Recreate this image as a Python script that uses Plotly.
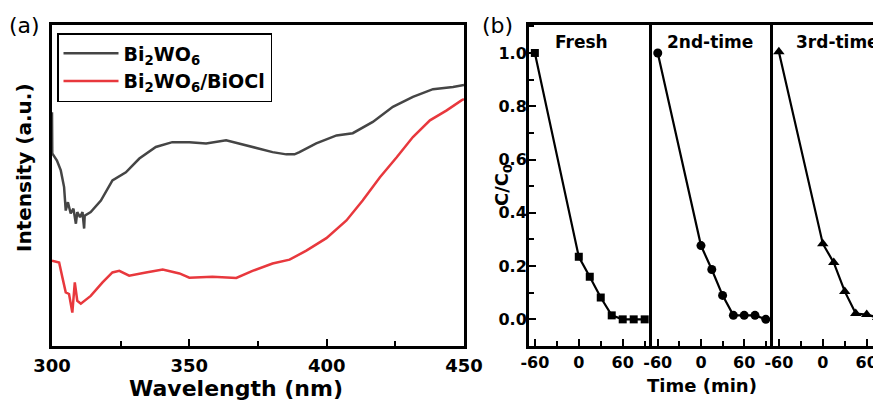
import plotly.graph_objects as go

# ---------------- data: panel (a) spectra ----------------
wl_bwo = [300.0, 300.1, 301.8, 303.2, 304.4, 305.0, 305.8, 306.8, 307.8, 308.7, 309.2, 310.2,
          311.1, 311.7, 311.9, 314.1, 317.8, 322.0, 326.9, 331.8, 337.8, 343.8, 350.0, 356.1,
          363.4, 370.7, 378.0, 380.3, 385.3, 388.3, 390.1, 396.2, 403.6, 409.5, 416.8, 424.1,
          431.4, 438.7, 446.0, 450.0]
int_bwo = [0.728, 0.600, 0.578, 0.547, 0.495, 0.422, 0.448, 0.413, 0.428, 0.381, 0.417, 0.401,
           0.417, 0.366, 0.406, 0.417, 0.453, 0.516, 0.541, 0.584, 0.620, 0.635, 0.635, 0.631,
           0.641, 0.625, 0.609, 0.604, 0.597, 0.597, 0.604, 0.631, 0.656, 0.663, 0.698, 0.745,
           0.776, 0.800, 0.807, 0.813]

wl_comp = [300.0, 302.6, 303.8, 305.0, 306.2, 307.4, 308.3, 309.2, 310.5, 314.1, 318.4, 322.0,
           324.5, 328.1, 334.2, 340.3, 346.4, 350.0, 358.4, 367.1, 373.0, 380.3, 386.5, 392.6,
           399.9, 407.2, 413.1, 419.4, 425.5, 431.4, 437.6, 443.7, 449.2, 450.0]
int_comp = [0.266, 0.260, 0.213, 0.167, 0.162, 0.104, 0.198, 0.141, 0.132, 0.156, 0.198, 0.229,
            0.234, 0.219, 0.229, 0.238, 0.226, 0.213, 0.216, 0.212, 0.234, 0.257, 0.269, 0.297,
            0.336, 0.391, 0.453, 0.526, 0.588, 0.651, 0.703, 0.734, 0.766, 0.769]

# ---------------- data: panel (b) cycling ----------------
time_min = [-60, 0, 15, 30, 45, 60, 75, 90]
cc0_fresh = [1.0, 0.235, 0.160, 0.082, 0.015, 0.0, 0.0, 0.0]
cc0_second = [1.0, 0.277, 0.187, 0.090, 0.015, 0.015, 0.015, 0.0]
cc0_third = [1.005, 0.284, 0.213, 0.105, 0.022, 0.018, 0.007, 0.0]

run_labels = ["Fresh", "2nd-time", "3rd-time"]
wl_ticks = [300, 350, 400, 450]
time_ticks = [-60, 0, 60]
time_ticktext = ["-60", "0", "60"]
cc_ticks = [0.0, 0.2, 0.4, 0.6, 0.8, 1.0]

FONT = "DejaVu Sans"

# the page body has an 8px margin, so the figure is placed at (8, 8) in the window
OX, OY = 8, 8
FW, FH = 881 - OX, 401 - OY


def fx(x):
    return (x - OX) / FW


def fy(y):
    return (FH - (y - OY)) / FH


y_dom = [fy(346), fy(25)]

fig = go.Figure()

fig.add_trace(go.Scatter(x=wl_bwo, y=int_bwo, mode="lines", name="Bi<sub>2</sub>WO<sub>6</sub>",
                         line=dict(color="#454545", width=2.5), xaxis="x", yaxis="y"))
fig.add_trace(go.Scatter(x=wl_comp, y=int_comp, mode="lines", name="Bi<sub>2</sub>WO<sub>6</sub>/BiOCl",
                         line=dict(color="#e8383d", width=2.5), xaxis="x", yaxis="y"))

series_b = [(cc0_fresh, "square", 8, "x2", "y2"),
            (cc0_second, "circle", 9, "x3", "y3"),
            (cc0_third, "triangle-up", 10, "x4", "y4")]
for vals, sym, sz, xa, ya in series_b:
    fig.add_trace(go.Scatter(x=time_min, y=vals, mode="lines+markers", showlegend=False,
                             line=dict(color="black", width=2.2),
                             marker=dict(symbol=sym, size=sz, color="black"),
                             xaxis=xa, yaxis=ya))

axis_common = dict(showline=True, linecolor="black", linewidth=3, showgrid=False, zeroline=False,
                   ticks="inside", tickcolor="black", tickwidth=2)
yline = dict(showline=True, linecolor="black", linewidth=3, showgrid=False, zeroline=False)
minor_t = dict(ticks="inside", ticklen=5, tickcolor="black", tickwidth=2)

fig.update_layout(
    width=FW, height=FH, margin=dict(l=0, r=0, t=0, b=0, autoexpand=False),
    paper_bgcolor="white", plot_bgcolor="white",
    font=dict(family=FONT, color="black"),
    xaxis=dict(domain=[fx(52), fx(464)], range=[300, 450], anchor="y", mirror=True,
               tickvals=wl_ticks, ticklen=7, minor=dict(tickvals=[325, 375, 425], **minor_t),
               ticklabelstandoff=1,
               tickfont=dict(family=FONT, size=18, weight="bold"), **axis_common),
    yaxis=dict(domain=y_dom, range=[0, 1], anchor="x", mirror=True, showticklabels=False,
               ticks="", **yline),
    xaxis2=dict(domain=[fx(529), fx(652)], range=[-68, 100], anchor="y2", mirror=True,
                tickvals=time_ticks, ticktext=time_ticktext, ticklen=7,
                minor=dict(tickvals=[-30, 30, 90], **minor_t),
                tickfont=dict(family=FONT, size=16, weight="bold"), **axis_common),
    yaxis2=dict(domain=y_dom, range=[-0.1, 1.105], anchor="x2", mirror=False,
                tickvals=cc_ticks, ticktext=[f"{v:.1f}" for v in cc_ticks], ticklen=7,
                minor=dict(tickvals=[-0.1, 0.1, 0.3, 0.5, 0.7, 0.9, 1.1], **minor_t),
                ticklabelstandoff=-4,
                tickfont=dict(family=FONT, size=16, weight="bold"), **axis_common),
    xaxis3=dict(domain=[fx(652), fx(773)], range=[-68, 100], anchor="y3", mirror=True,
                tickvals=time_ticks, ticktext=time_ticktext, ticklen=7,
                minor=dict(tickvals=[-30, 30, 90], **minor_t),
                tickfont=dict(family=FONT, size=16, weight="bold"), **axis_common),
    yaxis3=dict(domain=y_dom, range=[-0.1, 1.105], anchor="x3", mirror=False, showticklabels=False,
                ticks="", **yline),
    xaxis4=dict(domain=[fx(773), 1.0], range=[-68, 79.5], anchor="y4", mirror=True,
                tickvals=time_ticks, ticktext=time_ticktext, ticklen=7,
                minor=dict(tickvals=[-30, 30], **minor_t),
                tickfont=dict(family=FONT, size=16, weight="bold"), **axis_common),
    yaxis4=dict(domain=y_dom, range=[-0.1, 1.105], anchor="x4", mirror=False, showticklabels=False,
                ticks="", **yline),
    legend=dict(x=fx(57), y=fy(33), xanchor="left", yanchor="top",
                bordercolor="black", borderwidth=1.5, bgcolor="white",
                font=dict(family=FONT, size=19, weight="bold", color="black"),
                itemwidth=55, tracegroupgap=0),
)

ann = []


def add_text(text, x, y, size, bold=True, angle=0):
    ann.append(dict(text=text, x=fx(x), y=fy(y), xref="paper", yref="paper", showarrow=False,
                    xanchor="center", yanchor="middle", textangle=angle,
                    font=dict(family=FONT, size=size, color="black", weight="bold" if bold else "normal")))


add_text("(a)", 24, 26, 22, bold=False)
add_text("(b)", 497, 26, 22, bold=False)
add_text("Wavelength (nm)", 236, 388, 22)
add_text("Intensity (a.u.)", 24, 168, 20, angle=-90)
add_text("C/C<sub>0</sub>", 503, 185, 18, angle=-90)
add_text("Time (min)", 702, 385, 18)
for lab, cx in zip(run_labels, [581, 710, 837]):
    add_text(lab, cx, 42, 17)

fig.update_layout(annotations=ann)
fig.write_html("out.html")
